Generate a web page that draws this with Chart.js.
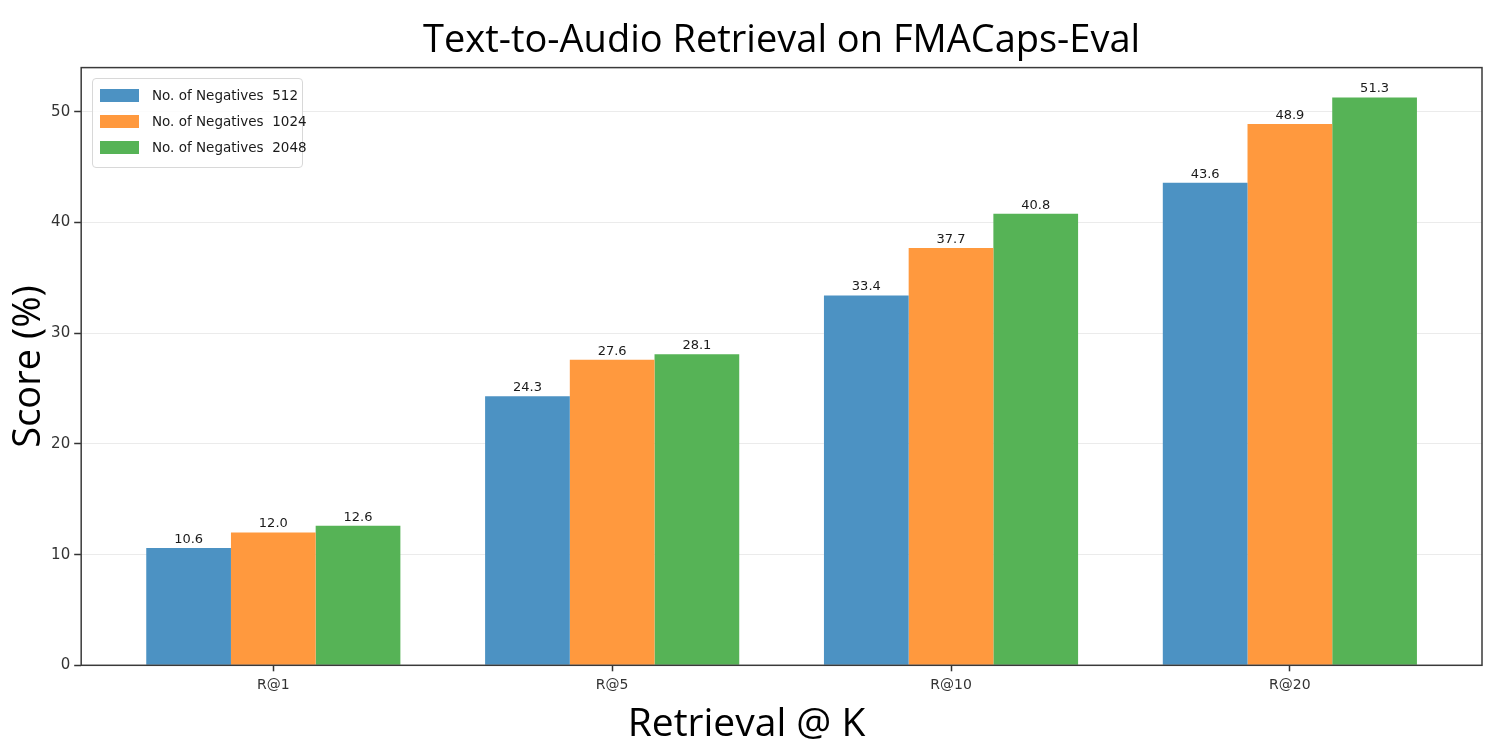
<!DOCTYPE html>
<html>
<head>
<meta charset="utf-8">
<script src="https://cdn.jsdelivr.net/npm/chart.js@4.4.1/dist/chart.umd.min.js"></script>
<style>
  html, body { margin: 0; padding: 0; background: #fff; }
  #wrap { position: relative; width: 1494px; height: 750px; }
  #legend {
    position: absolute; left: 92px; top: 78px; width: 209px; height: 88px;
    border: 1px solid #d8d8d8; border-radius: 4px; background: rgba(255,255,255,0.85);
    font-family: "DejaVu Sans", sans-serif; font-size: 13.5px; color: #1a1a1a;
  }
  .row { position: absolute; left: 7px; height: 16px; white-space: pre; }
  .sw { position: absolute; left: 0; top: 2px; width: 39px; height: 13px; }
  .lbl { position: absolute; left: 52px; top: 0; line-height: 16px; }
</style>
</head>
<body>
<div id="wrap">
  <canvas id="chart" width="1494" height="750"></canvas>
  <div id="legend"></div>
</div>
<script>
// Retrieval scores at each K, grouped by number of negatives
const categories = ['R@1', 'R@5', 'R@10', 'R@20'];
const seriesLabels = ['No. of Negatives  512', 'No. of Negatives  1024', 'No. of Negatives  2048'];
const neg512 = [10.6, 24.3, 33.4, 43.6];
const neg1024 = [12.0, 27.6, 37.7, 48.9];
const neg2048 = [12.6, 28.1, 40.8, 51.3];
const yTicks = [0, 10, 20, 30, 40, 50];

const colors = ['#4c92c3', '#ff993e', '#56b356'];
const allSeries = [neg512, neg1024, neg2048];

// frame around the plot + numbers on top of the bars
const framePlugin = {
    id: 'frame',
    afterDatasetsDraw(chart) {
        const ctx = chart.ctx;
        const a = chart.chartArea;
        ctx.save();
        ctx.font = '13px "DejaVu Sans", sans-serif';
        ctx.fillStyle = '#1a1a1a';
        ctx.textAlign = 'center';
        ctx.textBaseline = 'bottom';
        chart.data.datasets.forEach((ds, i) => {
            chart.getDatasetMeta(i).data.forEach((bar, j) => {
                ctx.fillText(ds.data[j].y.toFixed(1), bar.x, bar.y - 2);
            });
        });
        ctx.strokeStyle = '#3a3a3a';
        ctx.lineWidth = 1.5;
        ctx.strokeRect(a.left, a.top, a.right - a.left, a.bottom - a.top);
        ctx.restore();
    }
};

const chart = new Chart(document.getElementById('chart'), {
    type: 'bar',
    data: {
        datasets: allSeries.map((vals, i) => ({
            label: seriesLabels[i],
            data: vals.map((v, j) => ({ x: j, y: v })),
            xAxisID: 'x',
            yAxisID: 'y',
            backgroundColor: colors[i],
            borderWidth: 0,
            categoryPercentage: 0.75,
            barPercentage: 1.0
        }))
    },
    options: {
        responsive: false,
        animation: false,
        layout: { padding: { left: 11, right: 12, top: 0, bottom: 4 } },
        plugins: {
            legend: { display: false },
            tooltip: { enabled: false },
            // x axis name sits centred on the whole figure, so it goes in the bottom title
            title: {
                display: true,
                position: 'bottom',
                text: 'Retrieval @ K',
                color: '#000',
                font: { family: 'Open Sans', size: 39, weight: 'normal', lineHeight: 1.1 },
                padding: { top: 3, bottom: 0 }
            }
        },
        scales: {
            x: {
                type: 'linear',
                offset: false,
                min: -0.567,
                max: 3.567,
                afterBuildTicks(scale) {
                    scale.ticks = categories.map((c, i) => ({ value: i }));
                },
                ticks: {
                    callback: (v) => categories[v],
                    color: '#333',
                    font: { family: 'DejaVu Sans', size: 14 },
                    padding: 6,
                    maxRotation: 0
                },
                grid: { offset: false, drawOnChartArea: false, drawTicks: true, tickLength: 6, tickWidth: 1.5, tickColor: '#333', color: '#333' },
                border: { display: false }
            },
            // empty top axis only carries the chart title (centred over the plot)
            top: {
                type: 'linear',
                position: 'top',
                min: 0,
                max: 1,
                ticks: { display: false },
                grid: { display: false, drawTicks: false },
                border: { display: false },
                title: {
                    display: true,
                    text: 'Text-to-Audio Retrieval on FMACaps-Eval',
                    color: '#000',
                    font: { family: 'Open Sans', size: 38, weight: 'normal', lineHeight: 1.2 },
                    padding: { top: 18, bottom: 4 }
                }
            },
            y: {
                min: 0,
                max: 54,
                z: 1,
                afterBuildTicks(scale) {
                    scale.ticks = yTicks.map(v => ({ value: v }));
                },
                ticks: {
                    color: '#333',
                    font: { family: 'DejaVu Sans', size: 15 },
                    padding: 4
                },
                grid: { color: 'rgba(0,0,0,0.08)', tickColor: '#333', tickWidth: 1.5, tickLength: 7 },
                border: { display: false },
                title: {
                    display: true,
                    text: 'Score (%)',
                    color: '#000',
                    font: { family: 'Open Sans', size: 38, weight: 'normal', lineHeight: 0.95 },
                    padding: { top: 0, bottom: 0 }
                }
            }
        }
    },
    plugins: [framePlugin]
});

// legend box in the upper left corner of the plot
const legendEl = document.getElementById('legend');
seriesLabels.forEach((label, i) => {
    const row = document.createElement('div');
    row.className = 'row';
    row.style.top = (8 + i * 26) + 'px';
    row.innerHTML = `<span class="sw" style="background:${colors[i]}"></span><span class="lbl">${label}</span>`;
    legendEl.appendChild(row);
});
</script>
</body>
</html>
